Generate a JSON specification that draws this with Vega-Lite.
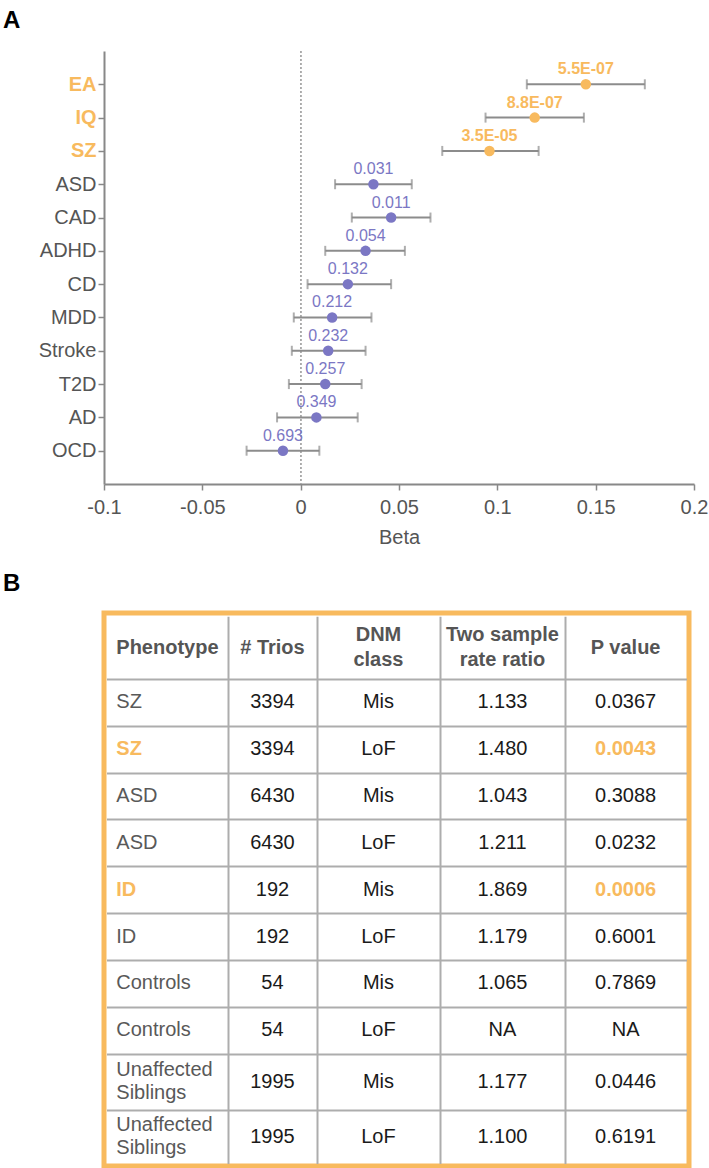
{
  "$schema": "https://vega.github.io/schema/vega-lite/v6.json",
  "background": "white",
  "autosize": {"type": "pad"},
  "padding": {"left": 0, "top": 8, "right": 0, "bottom": 0},
  "config": {
    "font": "Liberation Sans",
    "view": {"stroke": null},
    "title": {"font": "Liberation Sans", "fontSize": 24, "fontWeight": "bold", "color": "#000000", "anchor": "start", "frame": "group"}
  },
  "datasets": {
    "forest": [
      {"trait": "EA", "beta": 0.145, "lo": 0.115, "hi": 0.175, "p": "5.5E-07", "group": "top"},
      {"trait": "IQ", "beta": 0.119, "lo": 0.094, "hi": 0.144, "p": "8.8E-07", "group": "top"},
      {"trait": "SZ", "beta": 0.096, "lo": 0.072, "hi": 0.121, "p": "3.5E-05", "group": "top"},
      {"trait": "ASD", "beta": 0.037, "lo": 0.0175, "hi": 0.0565, "p": "0.031", "group": "other"},
      {"trait": "CAD", "beta": 0.046, "lo": 0.026, "hi": 0.066, "p": "0.011", "group": "other"},
      {"trait": "ADHD", "beta": 0.033, "lo": 0.0125, "hi": 0.053, "p": "0.054", "group": "other"},
      {"trait": "CD", "beta": 0.024, "lo": 0.0035, "hi": 0.046, "p": "0.132", "group": "other"},
      {"trait": "MDD", "beta": 0.016, "lo": -0.0035, "hi": 0.036, "p": "0.212", "group": "other"},
      {"trait": "Stroke", "beta": 0.014, "lo": -0.0045, "hi": 0.033, "p": "0.232", "group": "other"},
      {"trait": "T2D", "beta": 0.0125, "lo": -0.006, "hi": 0.031, "p": "0.257", "group": "other"},
      {"trait": "AD", "beta": 0.008, "lo": -0.012, "hi": 0.029, "p": "0.349", "group": "other"},
      {"trait": "OCD", "beta": -0.009, "lo": -0.0275, "hi": 0.0095, "p": "0.693", "group": "other"}
    ],
    "table": [
      {"row": 0, "col": 0, "text": "Phenotype", "kind": "header"},
      {"row": 0, "col": 1, "text": "# Trios", "kind": "header"},
      {"row": 0, "col": 2, "text": "DNM\nclass", "kind": "header"},
      {"row": 0, "col": 3, "text": "Two sample\nrate ratio", "kind": "header"},
      {"row": 0, "col": 4, "text": "P value", "kind": "header"},
      {"row": 1, "col": 0, "text": "SZ", "kind": "name"},
      {"row": 1, "col": 1, "text": "3394", "kind": "value"},
      {"row": 1, "col": 2, "text": "Mis", "kind": "value"},
      {"row": 1, "col": 3, "text": "1.133", "kind": "value"},
      {"row": 1, "col": 4, "text": "0.0367", "kind": "value"},
      {"row": 2, "col": 0, "text": "SZ", "kind": "hl"},
      {"row": 2, "col": 1, "text": "3394", "kind": "value"},
      {"row": 2, "col": 2, "text": "LoF", "kind": "value"},
      {"row": 2, "col": 3, "text": "1.480", "kind": "value"},
      {"row": 2, "col": 4, "text": "0.0043", "kind": "hl"},
      {"row": 3, "col": 0, "text": "ASD", "kind": "name"},
      {"row": 3, "col": 1, "text": "6430", "kind": "value"},
      {"row": 3, "col": 2, "text": "Mis", "kind": "value"},
      {"row": 3, "col": 3, "text": "1.043", "kind": "value"},
      {"row": 3, "col": 4, "text": "0.3088", "kind": "value"},
      {"row": 4, "col": 0, "text": "ASD", "kind": "name"},
      {"row": 4, "col": 1, "text": "6430", "kind": "value"},
      {"row": 4, "col": 2, "text": "LoF", "kind": "value"},
      {"row": 4, "col": 3, "text": "1.211", "kind": "value"},
      {"row": 4, "col": 4, "text": "0.0232", "kind": "value"},
      {"row": 5, "col": 0, "text": "ID", "kind": "hl"},
      {"row": 5, "col": 1, "text": "192", "kind": "value"},
      {"row": 5, "col": 2, "text": "Mis", "kind": "value"},
      {"row": 5, "col": 3, "text": "1.869", "kind": "value"},
      {"row": 5, "col": 4, "text": "0.0006", "kind": "hl"},
      {"row": 6, "col": 0, "text": "ID", "kind": "name"},
      {"row": 6, "col": 1, "text": "192", "kind": "value"},
      {"row": 6, "col": 2, "text": "LoF", "kind": "value"},
      {"row": 6, "col": 3, "text": "1.179", "kind": "value"},
      {"row": 6, "col": 4, "text": "0.6001", "kind": "value"},
      {"row": 7, "col": 0, "text": "Controls", "kind": "name"},
      {"row": 7, "col": 1, "text": "54", "kind": "value"},
      {"row": 7, "col": 2, "text": "Mis", "kind": "value"},
      {"row": 7, "col": 3, "text": "1.065", "kind": "value"},
      {"row": 7, "col": 4, "text": "0.7869", "kind": "value"},
      {"row": 8, "col": 0, "text": "Controls", "kind": "name"},
      {"row": 8, "col": 1, "text": "54", "kind": "value"},
      {"row": 8, "col": 2, "text": "LoF", "kind": "value"},
      {"row": 8, "col": 3, "text": "NA", "kind": "value"},
      {"row": 8, "col": 4, "text": "NA", "kind": "value"},
      {"row": 9, "col": 0, "text": "Unaffected\nSiblings", "kind": "name"},
      {"row": 9, "col": 1, "text": "1995", "kind": "value"},
      {"row": 9, "col": 2, "text": "Mis", "kind": "value"},
      {"row": 9, "col": 3, "text": "1.177", "kind": "value"},
      {"row": 9, "col": 4, "text": "0.0446", "kind": "value"},
      {"row": 10, "col": 0, "text": "Unaffected\nSiblings", "kind": "name"},
      {"row": 10, "col": 1, "text": "1995", "kind": "value"},
      {"row": 10, "col": 2, "text": "LoF", "kind": "value"},
      {"row": 10, "col": 3, "text": "1.100", "kind": "value"},
      {"row": 10, "col": 4, "text": "0.6191", "kind": "value"}
    ]
  },
  "resolve": {"scale": {"x": "independent", "y": "independent", "color": "independent"}},
  "spacing": 22,
  "vconcat": [
    {
      "width": 590,
      "height": 433,
      "title": {"text": "A", "dx": -101, "offset": 18},
      "data": {"name": "forest"},
      "layer": [
        {
          "mark": {"type": "rule", "color": "#AAAAAA", "strokeDash": [2, 2], "strokeWidth": 1},
          "encoding": {
            "x": {"datum": 0, "type": "quantitative", "scale": {"domain": [-0.1, 0.2], "nice": false, "zero": false}}
          }
        },
        {
          "mark": {"type": "rule", "color": "#8C8C8C", "strokeWidth": 2},
          "encoding": {
            "y": {"field": "trait", "type": "nominal", "sort": null, "scale": {"type": "point", "padding": 1},
              "axis": {
                "title": null, "labelFontSize": 20, "labelPadding": 2, "tickSize": 6, "tickWidth": 1.5,
                "tickColor": "#888888", "domainColor": "#888888", "domainWidth": 2, "grid": false,
                "labelColor": {"condition": {"test": "indexof(['EA','IQ','SZ'], datum.value) >= 0", "value": "#F8BA5E"}, "value": "#555555"},
                "labelFontWeight": {"condition": {"test": "indexof(['EA','IQ','SZ'], datum.value) >= 0", "value": "bold"}, "value": "normal"}
              }},
            "x": {"field": "lo", "type": "quantitative",
              "axis": {
                "title": "Beta", "titleFontSize": 20, "titleFontWeight": "normal", "titleColor": "#555555", "titlePadding": 10,
                "labelFontSize": 20, "labelColor": "#555555", "labelPadding": 7, "labelFlush": false,
                "values": [-0.1, -0.05, 0, 0.05, 0.1, 0.15, 0.2],
                "labelExpr": "datum.value < 0 ? '-' + format(-datum.value, '~g') : format(datum.value, '~g')",
                "tickSize": 6, "tickWidth": 1.5, "tickColor": "#888888", "domainColor": "#888888", "domainWidth": 2, "grid": false
              }},
            "x2": {"field": "hi"}
          }
        },
        {
          "mark": {"type": "tick", "color": "#8C8C8C", "size": 10, "thickness": 2},
          "encoding": {
            "y": {"field": "trait", "type": "nominal", "sort": null},
            "x": {"field": "lo", "type": "quantitative"}
          }
        },
        {
          "mark": {"type": "tick", "color": "#8C8C8C", "size": 10, "thickness": 2},
          "encoding": {
            "y": {"field": "trait", "type": "nominal", "sort": null},
            "x": {"field": "hi", "type": "quantitative"}
          }
        },
        {
          "mark": {"type": "circle", "size": 110, "opacity": 1},
          "encoding": {
            "y": {"field": "trait", "type": "nominal", "sort": null},
            "x": {"field": "beta", "type": "quantitative"},
            "color": {"field": "group", "type": "nominal", "scale": {"domain": ["top", "other"], "range": ["#F8BA5E", "#7B77C4"]}, "legend": null}
          }
        },
        {
          "transform": [{"filter": "datum.group == 'top'"}],
          "mark": {"type": "text", "fontSize": 16, "fontWeight": "bold", "color": "#F8BA5E", "dy": -15, "baseline": "middle"},
          "encoding": {
            "y": {"field": "trait", "type": "nominal", "sort": null},
            "x": {"field": "beta", "type": "quantitative"},
            "text": {"field": "p"}
          }
        },
        {
          "transform": [{"filter": "datum.group == 'other'"}],
          "mark": {"type": "text", "fontSize": 16, "fontWeight": "normal", "color": "#7B77C4", "dy": -15, "baseline": "middle"},
          "encoding": {
            "y": {"field": "trait", "type": "nominal", "sort": null},
            "x": {"field": "beta", "type": "quantitative"},
            "text": {"field": "p"}
          }
        }
      ]
    },
    {
      "width": 585,
      "height": 553,
      "title": {"text": "B", "dx": -101, "offset": 17},
      "view": {"stroke": "#F8BA5E", "strokeWidth": 5},
      "data": {"name": "table"},
      "encoding": {
        "x": {"field": "col", "type": "quantitative",
          "scale": {"domain": [-0.5, 0.5, 1.5, 2.5, 3.5, 4.5], "range": [2.5, 124.1, 212.8, 336.1, 460.8, 582.5]},
          "axis": {"orient": "top", "title": null, "labels": false, "ticks": false, "domain": false, "grid": true,
            "values": [0.5, 1.5, 2.5, 3.5], "gridColor": "#ADADAD", "gridWidth": 2, "gridOpacity": 1}},
        "y": {"field": "row", "type": "quantitative",
          "scale": {"domain": [-0.5, 0.5, 8.5, 9.5, 10.5], "range": [3.3, 66, 440.6, 496.6, 550.6]},
          "axis": {"title": null, "labels": false, "ticks": false, "domain": false, "grid": true,
            "values": [0.5, 1.5, 2.5, 3.5, 4.5, 5.5, 6.5, 7.5, 8.5, 9.5], "gridColor": "#ADADAD", "gridWidth": 2, "gridOpacity": 1}},
        "text": {"field": "text"},
        "color": {"field": "kind", "type": "nominal",
          "scale": {"domain": ["header", "name", "value", "hl"], "range": ["#555555", "#595959", "#1A1A1A", "#F8BA5E"]}, "legend": null}
      },
      "layer": [
        {
          "transform": [{"filter": "datum.col == 0 && (datum.kind == 'header' || datum.kind == 'hl')"}],
          "mark": {"type": "text", "fontSize": 20, "fontWeight": "bold", "align": "left", "dx": -51, "baseline": "middle"}
        },
        {
          "transform": [{"filter": "datum.col == 0 && datum.kind == 'name' && indexof(datum.text, '\\n') < 0"}],
          "mark": {"type": "text", "fontSize": 20, "fontWeight": "normal", "align": "left", "dx": -51, "baseline": "middle"}
        },
        {
          "transform": [{"filter": "datum.col == 0 && datum.kind == 'name' && indexof(datum.text, '\\n') >= 0"}],
          "mark": {"type": "text", "fontSize": 20, "fontWeight": "normal", "align": "left", "dx": -51, "dy": -11.5, "baseline": "middle", "lineBreak": "\n", "lineHeight": 23}
        },
        {
          "transform": [{"filter": "datum.col > 0 && (datum.kind == 'header' || datum.kind == 'hl') && indexof(datum.text, '\\n') < 0"}],
          "mark": {"type": "text", "fontSize": 20, "fontWeight": "bold", "align": "center", "baseline": "middle"}
        },
        {
          "transform": [{"filter": "datum.col > 0 && (datum.kind == 'header' || datum.kind == 'hl') && indexof(datum.text, '\\n') >= 0"}],
          "mark": {"type": "text", "fontSize": 20, "fontWeight": "bold", "align": "center", "dy": -12.5, "baseline": "middle", "lineBreak": "\n", "lineHeight": 25}
        },
        {
          "transform": [{"filter": "datum.col > 0 && datum.kind == 'value'"}],
          "mark": {"type": "text", "fontSize": 20, "fontWeight": "normal", "align": "center", "baseline": "middle"}
        }
      ]
    }
  ]
}
